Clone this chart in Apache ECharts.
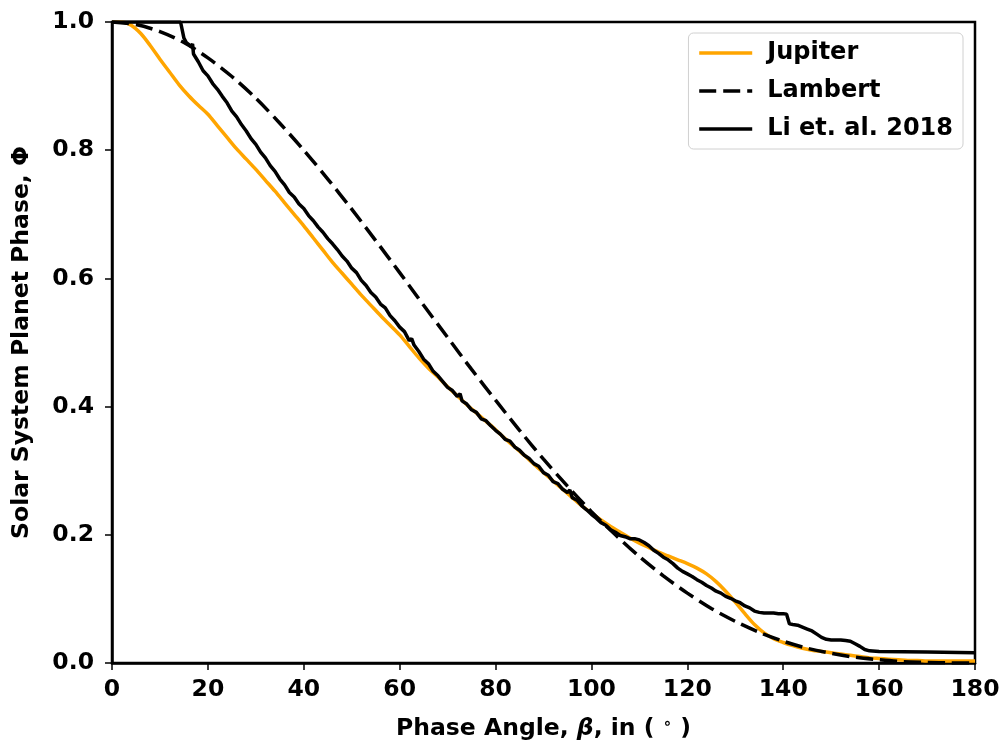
<!DOCTYPE html>
<html>
<head>
<meta charset="utf-8">
<script src="https://cdn.jsdelivr.net/npm/echarts@6/dist/echarts.min.js"></script>
<style>
html,body{margin:0;padding:0;background:#fff;}
#chart{width:1005px;height:747px;}
</style>
</head>
<body>
<div id="chart"></div>
<script>
// ---- Data ----
const seriesNames = ['Jupiter', 'Lambert', 'Li et. al. 2018'];

const xTicks = [0, 20, 40, 60, 80, 100, 120, 140, 160, 180];
const yTicks = [0.0, 0.2, 0.4, 0.6, 0.8, 1.0];

// [phase angle (deg), phase]
const jupiter = [
  [0,1.0],[2,1.0],[4,0.995],[6,0.982],[8,0.963],[10,0.942],[12,0.922],[14,0.902],[16,0.885],
  [18,0.870],[20,0.856],[22,0.838],[24,0.820],[26,0.802],[28,0.786],[30,0.770],[32,0.753],
  [34,0.736],[36,0.718],[38,0.700],[40,0.682],[42,0.663],[44,0.644],[46,0.625],[48,0.608],
  [50,0.591],[52,0.574],[54,0.558],[56,0.542],[58,0.527],[60,0.512],[62,0.494],[64,0.476],
  [66,0.460],[68,0.446],[70,0.431],[72,0.417],[74,0.403],[76,0.390],[78,0.377],[80,0.364],
  [82,0.350],[84,0.337],[86,0.324],[88,0.310],[90,0.297],[92,0.284],[94,0.271],[96,0.258],
  [98,0.245],[100,0.234],[102,0.223],[104,0.213],[106,0.204],[108,0.195],[110,0.187],
  [112,0.180],[114,0.173],[116,0.167],[118,0.161],[120,0.155],[122,0.148],[124,0.139],
  [126,0.127],[128,0.112],[130,0.095],[132,0.077],[134,0.060],[136,0.047],[138,0.038],
  [140,0.032],[142,0.027],[144,0.023],[146,0.020],[148,0.018],[150,0.016],[152,0.014],
  [154,0.012],[156,0.010],[158,0.008],[160,0.007],[162,0.006],[164,0.005],[166,0.004],
  [168,0.004],[170,0.003],[172,0.003],[174,0.003],[176,0.003],[178,0.003],[180,0.003]
];

const lambert = [
  [0,1.000],[5,0.996],[10,0.985],[15,0.968],[20,0.944],[25,0.915],[30,0.881],[35,0.842],
  [40,0.800],[45,0.755],[50,0.708],[55,0.659],[60,0.609],[65,0.558],[70,0.508],[75,0.458],
  [80,0.410],[85,0.363],[90,0.318],[95,0.276],[100,0.236],[105,0.200],[110,0.166],
  [115,0.136],[120,0.109],[125,0.085],[130,0.065],[135,0.048],[140,0.034],[145,0.023],
  [150,0.015],[155,0.009],[160,0.005],[165,0.002],[170,0.001],[175,0.0001],[180,0.0]
];

const li2018 = [
  [0,1.0],[5,1.0],[10,1.0],[14.3,1.0],[15,0.975],[15.5,0.968],[16.5,0.962],[16.8,0.966],
  [17,0.950],[18,0.938],[19,0.924],[20,0.916],[21,0.904],[22,0.895],[23,0.884],[24,0.874],
  [25,0.861],[26,0.852],[27,0.840],[28,0.830],[29,0.818],[30,0.809],[31,0.797],[32,0.788],
  [33,0.776],[34,0.767],[35,0.755],[36,0.746],[37,0.734],[38,0.727],[39,0.716],[40,0.709],
  [41,0.698],[42,0.690],[43,0.680],[44,0.672],[45,0.662],[46,0.654],[47,0.645],[48,0.635],
  [49,0.627],[50,0.616],[51,0.609],[52,0.597],[53,0.589],[54,0.578],[55,0.571],[56,0.560],
  [57,0.554],[58,0.542],[59,0.534],[60,0.524],[61,0.517],[62,0.503],[62.5,0.506],[63,0.496],
  [64,0.486],[65,0.474],[66,0.467],[67,0.455],[68,0.448],[69,0.439],[70,0.430],[71,0.425],
  [72,0.416],[72.6,0.420],[73,0.409],[74,0.404],[75,0.395],[76,0.391],[77,0.381],[78,0.378],
  [79,0.370],[80,0.363],[81,0.357],[82,0.349],[83,0.346],[84,0.337],[85,0.332],[86,0.324],
  [87,0.319],[88,0.311],[89,0.307],[90,0.297],[91,0.293],[92,0.283],[93,0.280],[94,0.271],
  [95,0.266],[95.5,0.270],[96,0.258],[97,0.254],[98,0.245],[99,0.239],[100,0.232],
  [101,0.226],[102,0.219],[103,0.215],[104,0.208],[105,0.204],[106,0.199],[107,0.197],
  [108,0.194],[109,0.194],[110,0.192],[111,0.188],[112,0.183],[113,0.176],[114,0.171],
  [115,0.165],[116,0.161],[117,0.155],[118,0.148],[119,0.143],[120,0.139],[121,0.135],
  [122,0.130],[123,0.126],[124,0.121],[125,0.117],[126,0.112],[127,0.109],[128,0.104],
  [129,0.101],[130,0.097],[131,0.094],[132,0.089],[133,0.086],[134,0.081],[135,0.079],
  [136,0.078],[137,0.078],[138,0.078],[139,0.077],[140,0.077],[140.7,0.076],[141.3,0.061],
  [142,0.060],[143,0.059],[144,0.056],[145,0.053],[146,0.050],[147,0.045],[148,0.040],
  [149,0.037],[150,0.036],[151,0.036],[152,0.036],[153,0.035],[154,0.034],[155,0.030],
  [156,0.026],[157,0.021],[158,0.019],[160,0.018],[170,0.017],[180,0.016]
];

// ---- Chart ----
const FONT = 'DejaVu Sans';
const FS = 23.5;
const chart = echarts.init(document.getElementById('chart'), null, {renderer: 'canvas'});

const option = {
  animation: false,
  backgroundColor: '#fff',
  grid: {
    left: 112, right: 30, top: 22, bottom: 84,
    show: true, borderColor: '#000', borderWidth: 2.5, backgroundColor: 'transparent'
  },
  legend: {
    data: seriesNames,
    orient: 'vertical',
    right: 42, top: 33,
    itemWidth: 53, itemHeight: 14, itemGap: 14,
    backgroundColor: '#fff',
    borderColor: '#d0d0d0', borderWidth: 1, borderRadius: 5,
    padding: [8, 10, 8, 9],
    itemStyle: {opacity: 0},
    lineStyle: {width: 3.5},
    textStyle: {color: '#000', fontFamily: FONT, fontWeight: 'bold', fontSize: 24, padding: [0, 0, 0, 10]}
  },
  xAxis: {
    type: 'value', min: xTicks[0], max: xTicks[xTicks.length - 1], interval: xTicks[1] - xTicks[0],
    name: 'Phase Angle, {b|β}, in ( {s|∘} )',
    nameLocation: 'middle', nameGap: 54,
    nameTextStyle: {
      color: '#000', fontFamily: FONT, fontWeight: 'bold', fontSize: FS,
      rich: {
        b: {fontFamily: FONT, fontWeight: 'bold', fontStyle: 'italic', fontSize: FS, color: '#000'},
        s: {fontFamily: FONT, fontSize: 15, color: '#000', verticalAlign: 'top', padding: [0, 0, 9, 0]}
      }
    },
    axisLine: {show: true, onZero: false, lineStyle: {color: '#000', width: 2.5}},
    axisTick: {show: true, length: 7, lineStyle: {color: '#000', width: 1.5}},
    axisLabel: {color: '#000', fontFamily: FONT, fontWeight: 'bold', fontSize: FS, margin: 15},
    splitLine: {show: false}
  },
  yAxis: {
    type: 'value', min: yTicks[0], max: yTicks[yTicks.length - 1], interval: 0.2,
    name: 'Solar System Planet Phase, Φ',
    nameLocation: 'middle', nameGap: 78,
    nameTextStyle: {color: '#000', fontFamily: FONT, fontWeight: 'bold', fontSize: FS},
    axisLine: {show: true, onZero: false, lineStyle: {color: '#000', width: 2.5}},
    axisTick: {show: true, length: 7, lineStyle: {color: '#000', width: 1.5}},
    axisLabel: {
      color: '#000', fontFamily: FONT, fontWeight: 'bold', fontSize: FS, margin: 18,
      formatter: v => v.toFixed(1)
    },
    splitLine: {show: false}
  },
  series: [
    {
      name: seriesNames[0], type: 'line', data: jupiter, symbol: 'none', smooth: 0.3,
      lineStyle: {color: '#FFA500', width: 3.5}, itemStyle: {color: '#FFA500'}, z: 2
    },
    {
      name: seriesNames[1], type: 'line', data: lambert, symbol: 'none', smooth: 0.3,
      lineStyle: {color: '#000', width: 3.5, type: [17, 7]}, itemStyle: {color: '#000'}, z: 3
    },
    {
      name: seriesNames[2], type: 'line', data: li2018, symbol: 'none',
      lineStyle: {color: '#000', width: 3.5}, itemStyle: {color: '#000'}, z: 4
    }
  ]
};
chart.setOption(option);
</script>
</body>
</html>
